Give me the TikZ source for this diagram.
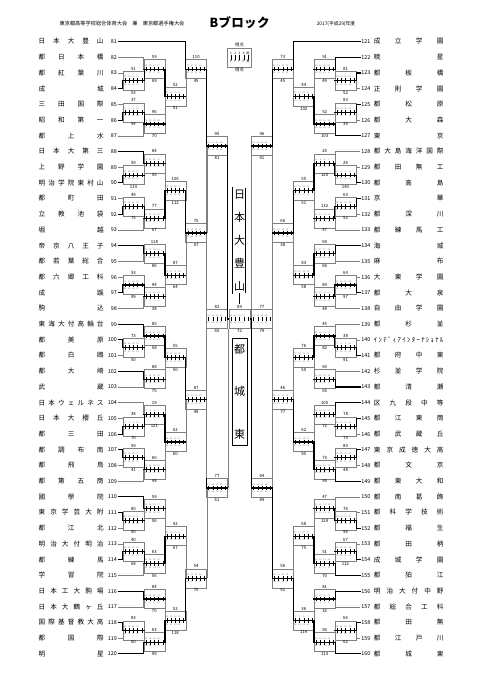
\documentclass[tikz,border=0pt]{standalone}
\usepackage{fontspec}
\setmainfont{Noto Sans CJK JP}
\usetikzlibrary{positioning,calc}

\makeatletter
\def\spr#1{\spr@#1\@nil}
\def\spr@#1#2\@nil{#1\ifx\relax#2\relax\else\hfill\spr@#2\@nil\fi}
\makeatother

\tikzset{
  win/.style={line width=1.1pt, line cap=rect},
  lose/.style={line width=0.45pt, draw=black!50},
  gbox/.style={draw=black!50, line width=0.35pt, minimum width=20.9pt, minimum height=19pt,
    inner sep=0pt, align=center, text=black!55, font=\fontsize{2.2}{2.2}\selectfont, label distance=0.6pt},
  glbl/.style={font=\fontsize{4.3}{4.3}\selectfont, inner sep=0.5pt},
  tick/.style={line width=0.4pt},
  tnum/.style={font=\fontsize{5.4}{5.4}\selectfont, inner sep=1.2pt},
  tname/.style={font=\fontsize{6.6}{6.6}\selectfont, inner sep=0pt, text height=5.6pt, text depth=1pt},
}

% quarter scores in a box row
\newcommand\qs[1]{\pgfmathtruncatemacro\qa{#1/4}\pgfmathtruncatemacro\qb{#1-3*\qa}%
  \makebox[4.2pt]{\qa}\makebox[4.2pt]{\qa}\makebox[4.2pt]{\qa}\makebox[4.2pt]{\qb}\makebox[4.2pt]{}}

% score box of one game
\newcommand\game[5]{%
  \node[gbox, label={[glbl]above:#4}, label={[glbl]below:#5}] (#1) at (#2,#3) {\qs{#4}\\[5.2pt]\qs{#5}};
  \foreach \k in {-8.4,-4.2,0,4.2,8.4}
    \draw[tick] ([xshift=\k pt]#1.center) ++(0,-2.4) -- ++(0,4.8);
}

\begin{document}
\begin{tikzpicture}[x=1pt,y=-1pt]
\useasboundingbox[fill=white] (0,0) rectangle (481,680);

% header
\node[font=\fontsize{5.2}{5.2}\selectfont] (hdr) at (122,24) {東京都高等学校総合体育大会　兼　東京都選手権大会};
\node[font=\fontsize{12.5}{12.5}\selectfont\bfseries] (ttl) at (239.5,23) {\hbox to 60pt{\spr{Bブロック}}};
\node[font=\fontsize{4.8}{4.8}\selectfont] (yr) at (336,24) {2017(平成29)年度};

% legend box
\node[gbox, minimum width=24pt, text=black, font=\fontsize{3.2}{3.2}\selectfont,
  label={[glbl]above:得点}, label={[glbl]below:得点}] (leg) at (239.5,57.5)
  {\makebox[4.2pt]{1}\makebox[4.2pt]{2}\makebox[4.2pt]{3}\makebox[4.2pt]{4}\makebox[4.2pt]{延}\\[4.6pt]%
   \makebox[4.2pt]{P}\makebox[4.2pt]{P}\makebox[4.2pt]{P}\makebox[4.2pt]{P}\makebox[4.2pt]{長}};
\foreach \k in {-8.4,-4.2,0,4.2,8.4}
  \draw[tick] ([xshift=\k pt]leg.center) ++(0,-2.6) -- ++(0,5.2);

% teams, left
\foreach \n/\s [count=\i from 0] in {81/日本大豊山,82/都日本橋,83/都紅葉川,84/成城,85/三田国際,
  86/昭和第一,87/都上水,88/日本大第三,89/上野学園,90/明治学院東村山,91/都町田,92/立教池袋,
  93/堀越,94/帝京八王子,95/都若葉総合,96/都六郷工科,97/成蹊,98/駒込,99/東海大付高輪台,
  100/都美原,101/都白鴎,102/都大崎,103/武蔵,104/日本ウェルネス,105/日本大櫻丘,106/都三田,
  107/都調布南,108/都飛鳥,109/都第五商,110/國學院,111/東京学芸大附,112/都江北,113/明治大付明治,
  114/都練馬,115/学習院,116/日本工大駒場,117/日本大鶴ヶ丘,118/国際基督教大高,119/都国際,120/明星}{
  \pgfmathsetmacro\ty{41.6+15.7*\i}
  \node[tnum, anchor=east] (n\n) at (118.3,\ty) {\n};
  \node[tname, anchor=west] (s\n) at (38.4,\ty) {\hbox to 65pt{\expandafter\spr\expandafter{\s}}};
}

% teams, right
\foreach \n/\s [count=\i from 0] in {121/成立学園,122/暁星,123/都板橋,124/正則学園,125/都松原,
  126/都大森,127/東京,128/都大島海洋国際,129/都田無工,130/都高島,131/京華,132/都深川,133/都練馬工,
  134/海城,135/麻布,136/大東学園,137/都大泉,138/自由学園,139/都杉並,140/ｲﾝﾃﾞｨｱｲﾝﾀｰﾅｼｮﾅﾙ,
  141/都府中東,142/杉並学院,143/都清瀬,144/区九段中等,145/都江東商,146/都武蔵丘,147/東京成徳大高,
  148/都文京,149/都東大和,150/都南葛飾,151/都科学技術,152/都福生,153/都田柄,154/成城学園,
  155/都狛江,156/明治大付中野,157/都総合工科,158/都田無,159/都江戸川,160/都城東}{
  \pgfmathsetmacro\ty{41.6+15.7*\i}
  \node[tnum, anchor=west] (n\n) at (360,\ty) {\n};
  \node[tname, anchor=west] (s\n) at (373.7,\ty) {\hbox to 69.6pt{\expandafter\spr\expandafter{\s}}};
}

% score boxes
\foreach \g/\x/\y/\t/\b in {a1/133.45/80.85/51/53, a2/154.35/69.08/59/69, a3/133.45/112.25/37/94,
  a4/154.35/124.03/96/70, a5/175.25/96.55/52/51, a6/196.15/69.08/110/45, a7/133.45/175.05/59/114,
  a8/154.35/163.28/84/55, a9/133.45/206.45/49/75, a10/154.35/218.23/77/67, a11/175.25/190.75/105/112,
  a12/154.35/253.55/118/86, a13/133.45/284.95/53/99, a14/154.35/296.73/94/38, a15/175.25/275.14/87/64,
  a16/196.15/232.95/75/67, a17/217.05/146.0/95/81,
  b1/133.45/347.75/73/50, b2/154.35/335.98/85/58, b3/154.35/379.15/88/75, b4/175.25/357.56/55/50,
  b5/133.45/426.25/38/70, b6/154.35/414.48/19/121, b7/133.45/457.65/59/41, b8/154.35/469.43/66/48,
  b9/175.25/441.95/62/60, b10/196.15/399.76/87/49, b11/133.45/520.45/80/50, b12/154.35/508.68/59/56,
  b13/133.45/551.85/40/68, b14/154.35/563.63/63/56, b15/175.25/536.15/42/67, b16/154.35/598.95/84/70,
  b17/133.45/630.35/83/60, b18/154.35/642.13/63/99, b19/175.25/620.54/52/118, b20/196.15/578.35/54/70,
  b21/217.05/488.0/77/61,
  c1/345.55/80.85/81/52, c2/324.65/69.08/91/49, c3/345.55/112.25/83/39, c4/324.65/124.03/52/103,
  c5/303.75/96.55/44/102, c6/282.85/69.08/73/45, c7/345.55/175.05/26/140, c8/324.65/163.28/25/125,
  c9/345.55/206.45/63/52, c10/324.65/218.23/132/47, c11/303.75/190.75/55/51, c12/324.65/253.55/69/66,
  c13/345.55/284.95/64/97, c14/324.65/296.73/84/48, c15/303.75/275.14/83/58, c16/282.85/232.95/66/38,
  c17/261.95/146.0/96/61,
  d1/345.55/347.75/38/91, d2/324.65/335.98/45/82, d3/324.65/379.15/60/65, d4/303.75/357.56/76/50,
  d5/345.55/426.25/78/73, d6/324.65/414.48/105/72, d7/345.55/457.65/80/48, d8/324.65/469.43/73/99,
  d9/303.75/441.95/62/95, d10/282.85/399.76/46/77, d11/345.55/520.45/76/96, d12/324.65/508.68/47/124,
  d13/345.55/551.85/67/112, d14/324.65/563.63/51/70, d15/303.75/536.15/68/75, d16/324.65/598.95/81/32,
  d17/345.55/630.35/66/62, d18/324.65/642.13/56/113, d19/303.75/620.54/36/114, d20/282.85/578.35/56/91,
  d21/261.95/488.0/64/84}
  \game{\g}{\x}{\y}{\t}{\b};

% centre boxes
\game{r6l}{217.05}{319}{82}{65}
\game{fin}{239.5}{319}{89}{72}
\game{r6r}{261.95}{319}{77}{79}
\node[draw, double, double distance=0.8pt, line width=0.45pt, minimum width=13pt, minimum height=106pt,
  inner sep=0pt, font=\fontsize{11}{23}\selectfont, align=center] (champ) at (239.5,240.5) {日\\本\\大\\豊\\山};
\node[draw, line width=0.6pt, minimum width=15pt, minimum height=107pt, inner sep=0pt,
  font=\fontsize{11}{42.5}\selectfont, align=center] (second) at (239.5,391.5) {都\\城\\東};

% team lines
\foreach \n/\g/\s in {81/a6/win,82/a2/lose,83/a1/lose,84/a1/win,85/a3/lose,86/a3/win,87/a4/lose,
  88/a8/win,89/a7/lose,90/a7/win,91/a9/lose,92/a9/win,93/a10/lose,94/a12/win,95/a12/lose,96/a13/lose,
  97/a13/win,98/a14/lose,99/b2/win,100/b1/win,101/b1/lose,102/b3/win,103/b3/lose,104/b6/lose,
  105/b5/lose,106/b5/win,107/b7/win,108/b7/lose,109/b8/lose,110/b12/win,111/b11/win,112/b11/lose,
  113/b13/lose,114/b13/win,115/b14/lose,116/b16/win,117/b16/lose,118/b17/win,119/b17/lose,120/b18/win}
  \draw[\s] (n\n.east) -| (\g.west);
\foreach \n/\g/\s in {121/c6/win,122/c2/win,123/c1/win,124/c1/lose,125/c3/win,126/c3/lose,127/c4/win,
  128/c8/lose,129/c7/lose,130/c7/win,131/c9/win,132/c9/lose,133/c10/lose,134/c12/win,135/c12/lose,
  136/c13/lose,137/c13/win,138/c14/lose,139/d2/lose,140/d1/lose,141/d1/win,142/d3/lose,143/d3/win,
  144/d6/win,145/d5/win,146/d5/lose,147/d7/win,148/d7/lose,149/d8/win,150/d12/lose,151/d11/lose,
  152/d11/win,153/d13/lose,154/d13/win,155/d14/win,156/d16/win,157/d16/lose,158/d17/win,159/d17/lose,
  160/d18/win}
  \draw[\s] (n\n.west) -| (\g.east);

% game to game
\foreach \a/\g/\s in {a1/a2/win,a2/a5/win,a3/a4/win,a4/a5/lose,a5/a6/lose,a6/a17/win,a7/a8/lose,
  a8/a11/lose,a9/a10/win,a10/a11/win,a11/a16/win,a12/a15/win,a13/a14/win,a14/a15/lose,a15/a16/lose,
  a16/a17/lose,b1/b2/lose,b2/b4/win,b3/b4/lose,b4/b10/win,b5/b6/win,b6/b9/win,b7/b8/win,b8/b9/lose,
  b9/b10/lose,b10/b21/win,b11/b12/lose,b12/b15/lose,b13/b14/win,b14/b15/win,b15/b20/lose,b16/b19/lose,
  b17/b18/lose,b18/b19/win,b19/b20/win,b20/b21/lose}
  \draw[\s] (\a.east) |- (\g.west);
\foreach \a/\g/\s in {c1/c2/lose,c2/c5/lose,c3/c4/lose,c4/c5/win,c5/c6/lose,c6/c17/win,c7/c8/win,
  c8/c11/win,c9/c10/win,c10/c11/lose,c11/c16/win,c12/c15/win,c13/c14/win,c14/c15/lose,c15/c16/lose,
  c16/c17/lose,d1/d2/win,d2/d4/win,d3/d4/lose,d4/d10/lose,d5/d6/lose,d6/d9/lose,d7/d8/lose,d8/d9/win,
  d9/d10/win,d10/d21/lose,d11/d12/win,d12/d15/lose,d13/d14/lose,d14/d15/win,d15/d20/lose,d16/d19/lose,
  d17/d18/lose,d18/d19/win,d19/d20/win,d20/d21/win}
  \draw[\s] (\a.west) |- (\g.east);

% semifinal and final
\draw[lose] (a17.south west) -- (b21.north west);
\draw[lose] (c17.south east) -- (d21.north east);
\draw[lose] (b21.east) -- (b21.east |- r6l.south);
\draw[lose] (c17.west) -- (c17.west |- r6r.north);
\draw[win] (a17.east) |- (fin.west);
\draw[win] (d21.west) |- (fin.east);
\draw[win] ([yshift=6pt]fin.north) -- (champ.south);

% winner line through each box
\foreach \g in {a1,a2,a3,a4,a5,a6,a7,a8,a9,a10,a11,a12,a13,a14,a15,a16,a17,
  b1,b2,b3,b4,b5,b6,b7,b8,b9,b10,b11,b12,b13,b14,b15,b16,b17,b18,b19,b20,b21,
  c1,c2,c3,c4,c5,c6,c7,c8,c9,c10,c11,c12,c13,c14,c15,c16,c17,
  d1,d2,d3,d4,d5,d6,d7,d8,d9,d10,d11,d12,d13,d14,d15,d16,d17,d18,d19,d20,d21}
  \draw[win] (\g.west) -- (\g.east);
\end{tikzpicture}
\end{document}
